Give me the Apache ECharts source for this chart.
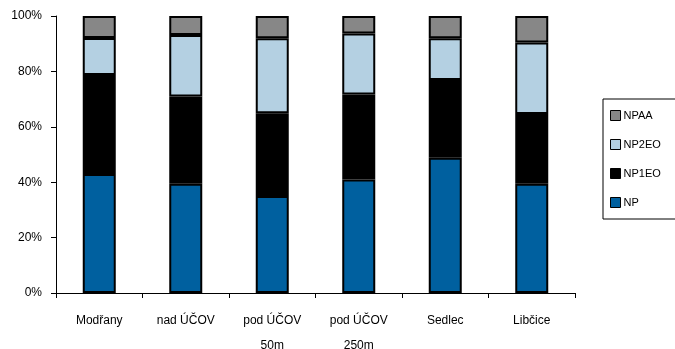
<!DOCTYPE html>
<html>
<head>
<meta charset="utf-8">
<script src="https://cdn.jsdelivr.net/npm/echarts@6/dist/echarts.min.js"></script>
<style>
  html, body { margin: 0; padding: 0; background: #fff; }
  #chart { width: 675px; height: 349px; }
</style>
</head>
<body>
<div id="chart"></div>
<script>
// Sampling sites along the river
const categories = ['Modřany', 'nad ÚČOV', 'pod ÚČOV\n50m', 'pod ÚČOV\n250m', 'Sedlec', 'Libčice'];

// Share of each compound group (%) at each site
const npValues    = [43.0, 39.4, 35.0, 41.0, 48.8, 39.4];
const np1eoValues = [35.7, 31.5, 29.9, 30.7, 28.1, 25.2];
const np2eoValues = [13.4, 22.2, 27.1, 22.0, 15.1, 25.8];
const npaaValues  = [ 7.9,  6.9,  8.0,  6.3,  8.0,  9.6];

const yTicks = [0, 20, 40, 60, 80, 100];

const font = 'Liberation Sans, Arial, sans-serif';

function stackSeries(name, data, color) {
  return {
    name: name,
    type: 'bar',
    stack: 'total',
    data: data,
    barWidth: 33,
    itemStyle: { color: color, borderColor: '#000', borderWidth: 2 }
  };
}

const chart = echarts.init(document.getElementById('chart'), null, { renderer: 'canvas' });
chart.setOption({
  animation: false,
  backgroundColor: '#fff',
  grid: { left: 56, right: 100, top: 16, bottom: 56, containLabel: false, outerBoundsMode: 'none' },
  legend: {
    orient: 'vertical',
    left: 603,
    top: 99,
    width: 80,
    padding: [11, 30, 11, 7],
    itemGap: 18,
    itemWidth: 10,
    itemHeight: 10,
    icon: 'rect',
    borderColor: '#000',
    borderWidth: 1,
    data: ['NPAA', 'NP2EO', 'NP1EO', 'NP'],
    itemStyle: { borderColor: '#000', borderWidth: 1 },
    textStyle: { fontFamily: font, fontSize: 11, color: '#000', padding: [0, 0, 0, -2] }
  },
  xAxis: {
    type: 'category',
    data: categories,
    axisLine: { lineStyle: { color: '#000', width: 1 } },
    axisTick: { show: true, alignWithLabel: false, length: 5, lineStyle: { color: '#000' } },
    axisLabel: { fontFamily: font, fontSize: 12, color: '#000', margin: 15, lineHeight: 25, interval: 0 }
  },
  yAxis: {
    type: 'value',
    min: yTicks[0],
    max: yTicks[yTicks.length - 1],
    interval: 20,
    axisLine: { show: true, lineStyle: { color: '#000', width: 1 } },
    axisTick: { show: true, length: 5, lineStyle: { color: '#000' } },
    splitLine: { show: false },
    axisLabel: { fontFamily: font, fontSize: 12, color: '#000', margin: 14, formatter: '{value}%' }
  },
  series: [
    stackSeries('NP', npValues, '#00609f'),
    stackSeries('NP1EO', np1eoValues, '#000000'),
    stackSeries('NP2EO', np2eoValues, '#b4d0e2'),
    stackSeries('NPAA', npaaValues, '#878787')
  ]
});
</script>
</body>
</html>
